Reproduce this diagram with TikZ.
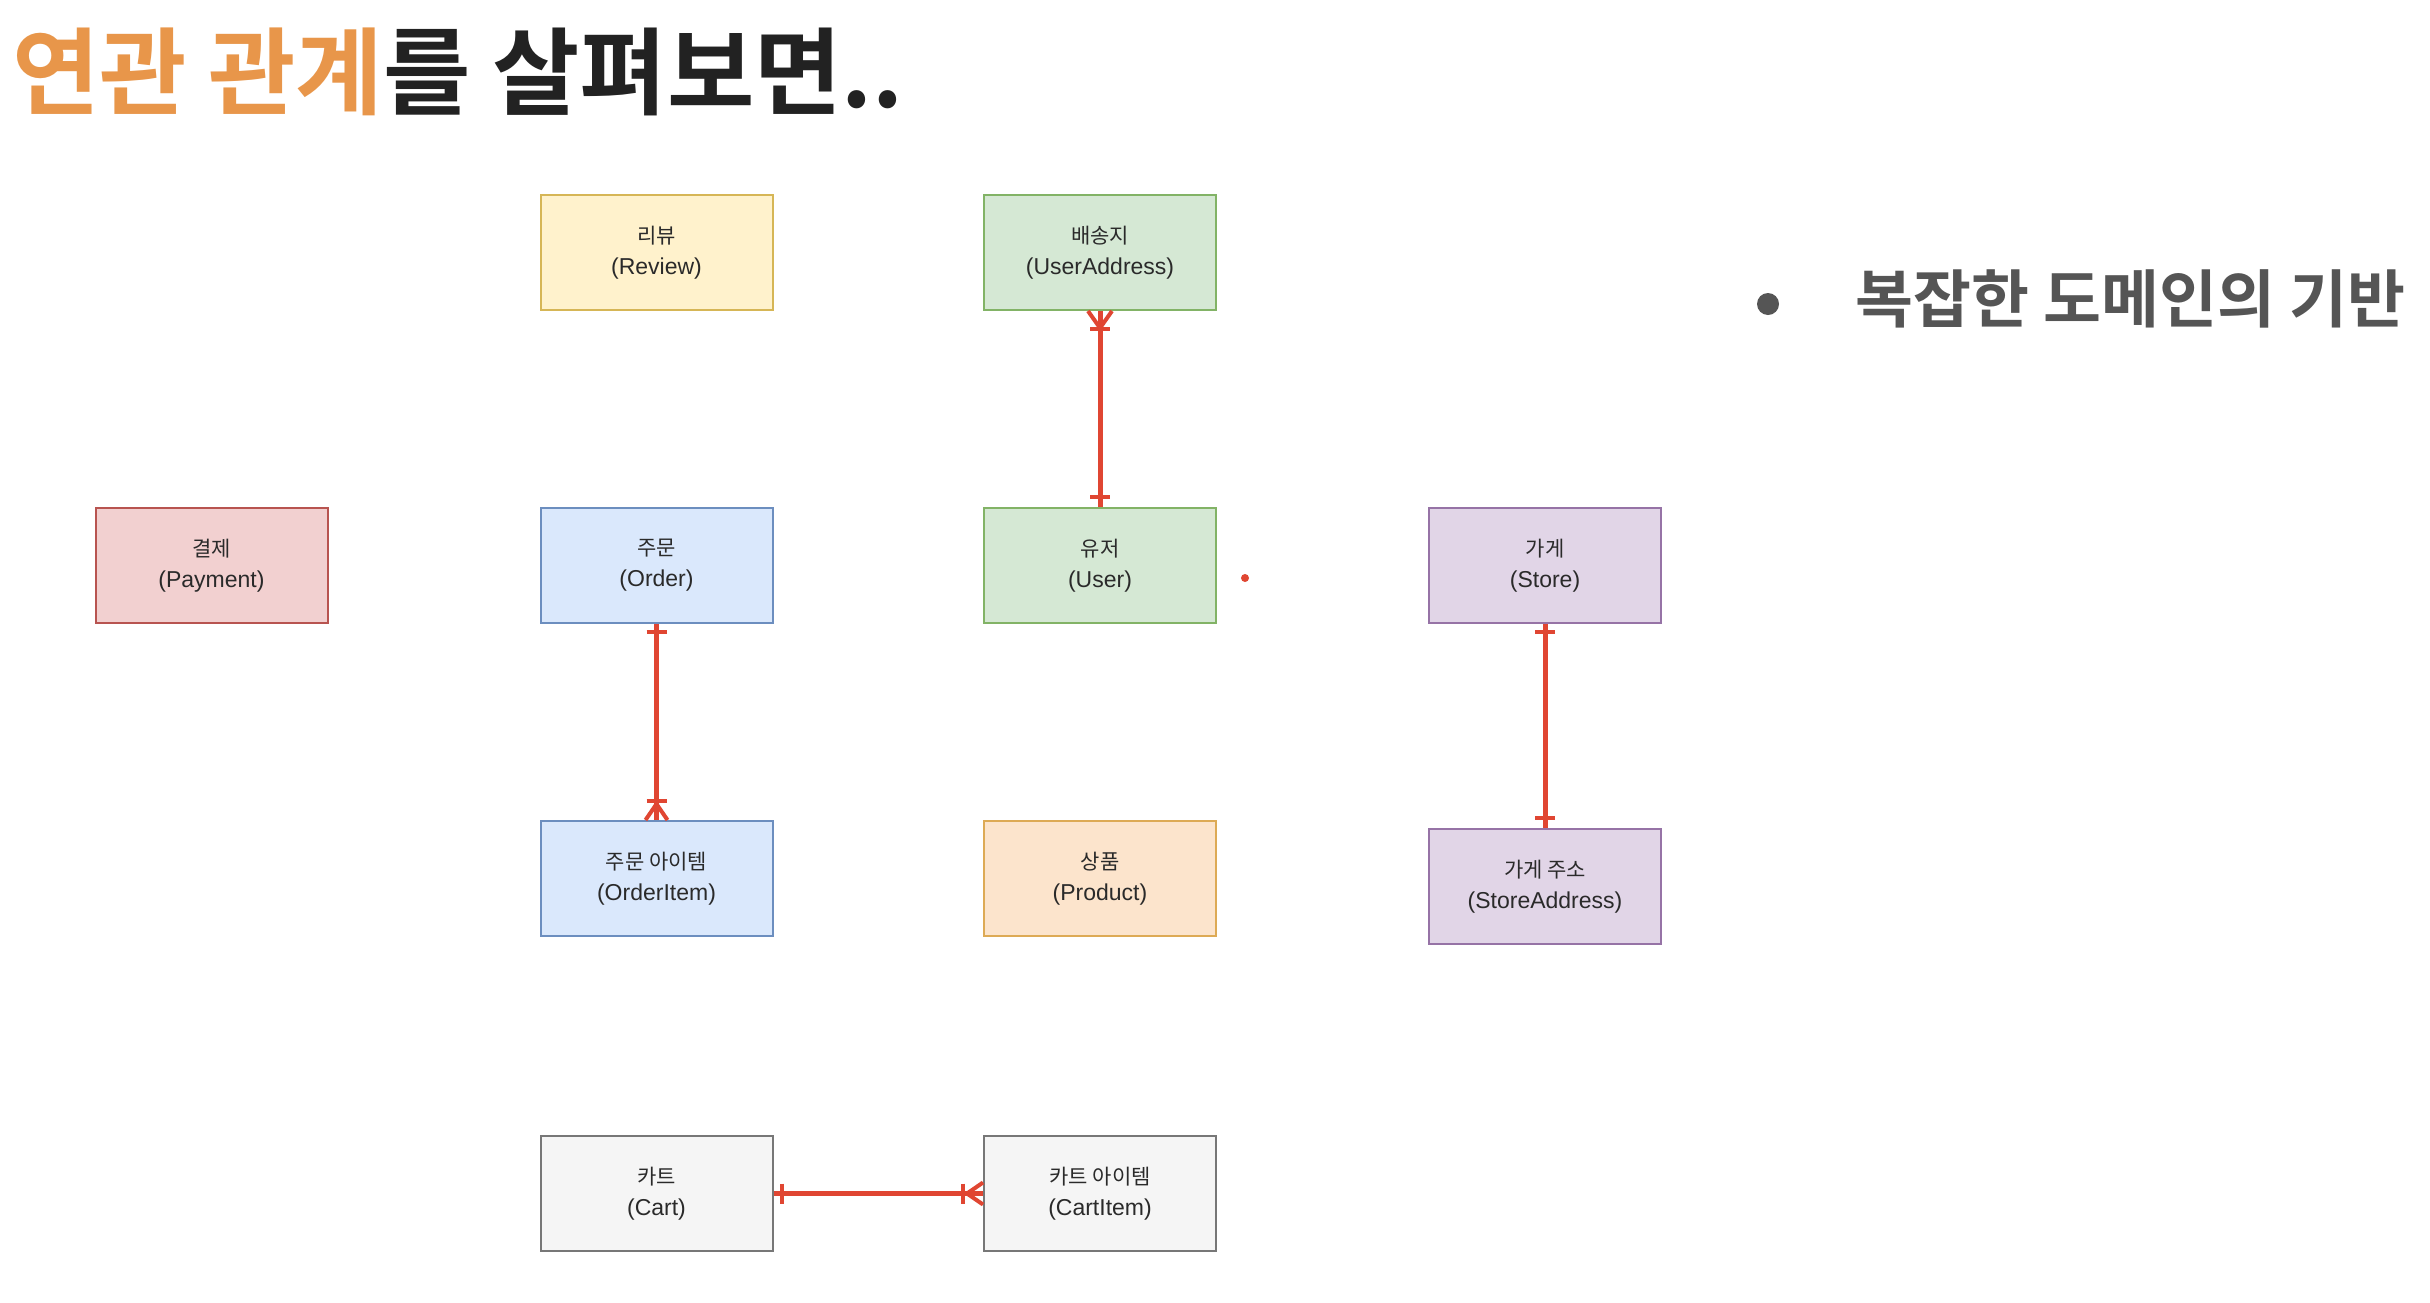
\documentclass[tikz,border=0pt]{standalone}
\usepackage{fontspec}
\setmainfont{Liberation Sans}
\newfontfamily\kr{Noto Sans CJK KR}
\newfontfamily\krb{Noto Sans CJK KR Bold}
\usetikzlibrary{calc}
\definecolor{ttlorange}{HTML}{E8964A}
\definecolor{ttldark}{HTML}{222222}
\definecolor{bulgray}{HTML}{555555}
\definecolor{relred}{HTML}{E04632}
\definecolor{txtgray}{HTML}{2A2A2A}
\definecolor{fYel}{HTML}{FFF2CC}\definecolor{dYel}{HTML}{D6B656}
\definecolor{fGrn}{HTML}{D5E8D4}\definecolor{dGrn}{HTML}{82B366}
\definecolor{fRed}{HTML}{F2D0D0}\definecolor{dRed}{HTML}{B85450}
\definecolor{fBlu}{HTML}{DAE8FC}\definecolor{dBlu}{HTML}{6C8EBF}
\definecolor{fPur}{HTML}{E1D5E7}\definecolor{dPur}{HTML}{9673A6}
\definecolor{fOrg}{HTML}{FCE4CC}\definecolor{dOrg}{HTML}{DDAA55}
\definecolor{fGry}{HTML}{F5F5F5}\definecolor{dGry}{HTML}{777777}
\tikzset{
  entity/.style={draw, line width=2pt, minimum width=232pt, minimum height=115pt,
    inner sep=0pt, align=center, text=txtgray, font=\fontsize{23}{31}\selectfont},
  yel/.style={entity, fill=fYel, draw=dYel},
  grn/.style={entity, fill=fGrn, draw=dGrn},
  redb/.style={entity, fill=fRed, draw=dRed},
  blu/.style={entity, fill=fBlu, draw=dBlu},
  pur/.style={entity, fill=fPur, draw=dPur},
  org/.style={entity, fill=fOrg, draw=dOrg},
  gry/.style={entity, fill=fGry, draw=dGry},
  rel/.style={draw=relred, line width=5pt},
  relt/.style={draw=relred, line width=4pt},
}
\newcommand{\krl}[1]{{\kr\fontsize{21}{31}\selectfont #1}}
\begin{document}
\begin{tikzpicture}[x=1pt, y=-1pt]
\useasboundingbox[fill=white] (0,0) rectangle (2430,1302);

% title
\node[anchor=base west, inner sep=0pt, font=\krb\fontsize{95}{100}\selectfont] (title) at (12,107)
  {\textcolor{ttlorange}{연관 관계}\textcolor{ttldark}{를 살펴보면..}};

% bullet
\fill[bulgray] (1768,304) circle (11) coordinate (bul);
\node[anchor=base west, inner sep=0pt, text=bulgray, font=\krb\fontsize{63}{70}\selectfont] (btxt) at (1855,322)
  {복잡한 도메인의 기반};

% entities
\node[yel] (review) at (656.5,252.5) {\krl{리뷰}\\(Review)};
\node[grn] (ua) at (1100,252.5) {\krl{배송지}\\(UserAddress)};
\node[redb] (pay) at (211.5,565.5) {\krl{결제}\\(Payment)};
\node[blu] (order) at (656.5,565.5) {\krl{주문}\\(Order)};
\node[grn] (user) at (1100,565.5) {\krl{유저}\\(User)};
\node[pur] (store) at (1545,565.5) {\krl{가게}\\(Store)};
\node[blu] (oitem) at (656.5,878.5) {\krl{주문 아이템}\\(OrderItem)};
\node[org] (prod) at (1100,878.5) {\krl{상품}\\(Product)};
\node[pur] (saddr) at (1545,886.5) {\krl{가게 주소}\\(StoreAddress)};
\node[gry] (cart) at (656.5,1193.5) {\krl{카트}\\(Cart)};
\node[gry] (citem) at (1100,1193.5) {\krl{카트 아이템}\\(CartItem)};

% red dot
\fill[relred] (1245,578) circle (4) coordinate (dot);

% UserAddress (many) -- User (one)
\draw[rel] (ua.south) -- (user.north);
\draw[relt] ($(ua.south)+(-12,0)$) -- ($(ua.south)+(0,17)$) -- ($(ua.south)+(12,0)$);
\draw[relt] ($(ua.south)+(-10,18)$) -- ($(ua.south)+(10,18)$);
\draw[relt] ($(user.north)+(-10,-10)$) -- ($(user.north)+(10,-10)$);

% Order (one) -- OrderItem (many)
\draw[rel] (order.south) -- (oitem.north);
\draw[relt] ($(order.south)+(-10,8)$) -- ($(order.south)+(10,8)$);
\draw[relt] ($(oitem.north)+(-11,0)$) -- ($(oitem.north)+(0,-16)$) -- ($(oitem.north)+(11,0)$);
\draw[relt] ($(oitem.north)+(-10,-19)$) -- ($(oitem.north)+(10,-19)$);

% Store (one) -- StoreAddress (one)
\draw[rel] (store.south) -- (saddr.north);
\draw[relt] ($(store.south)+(-10,8)$) -- ($(store.south)+(10,8)$);
\draw[relt] ($(saddr.north)+(-10,-10)$) -- ($(saddr.north)+(10,-10)$);

% Cart (one) -- CartItem (many)
\draw[rel] (cart.east) -- (citem.west);
\draw[relt] ($(cart.east)+(8,-10)$) -- ($(cart.east)+(8,10)$);
\draw[relt] ($(citem.west)+(0,-11)$) -- ($(citem.west)+(-16,0)$) -- ($(citem.west)+(0,11)$);
\draw[relt] ($(citem.west)+(-20,-10)$) -- ($(citem.west)+(-20,10)$);
\end{tikzpicture}
\end{document}
